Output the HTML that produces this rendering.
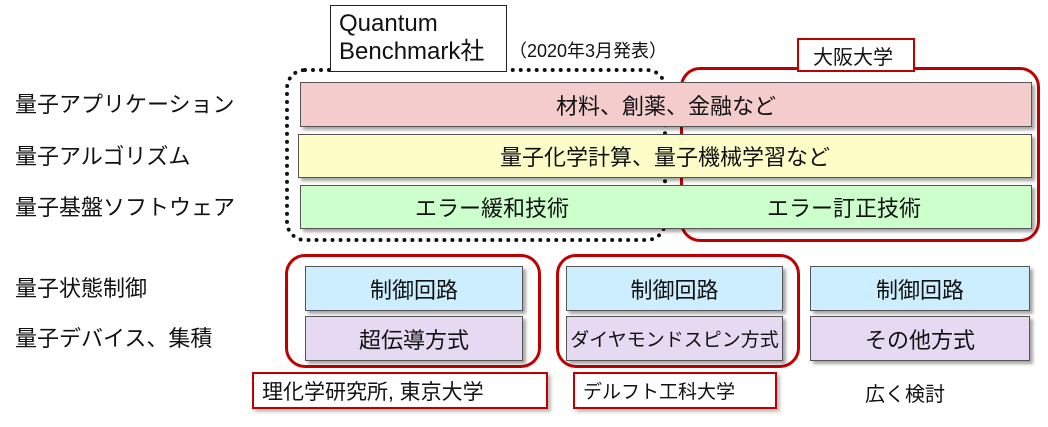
<!DOCTYPE html>
<html><head><meta charset="utf-8"><style>
body{margin:0;width:1048px;height:427px;background:#fff;position:relative;overflow:hidden;font-family:"Liberation Sans","Noto Sans CJK JP",sans-serif;color:#111}
.a{position:absolute;box-sizing:border-box}
.lbl{font-size:22px;left:15px;white-space:nowrap;line-height:26px}
.bar{border:1.5px solid #555;box-shadow:3px 3px 3px rgba(0,0,0,.35);display:flex;align-items:center;justify-content:center;font-size:22px}
.red{border:3px solid #c00000;border-radius:20px}
.tag{background:#fff;font-size:20px;display:flex;align-items:center;padding-left:8px;white-space:nowrap}
</style></head><body>
<div class="a lbl" style="top:92px">量子アプリケーション</div>
<div class="a lbl" style="top:144px">量子アルゴリズム</div>
<div class="a lbl" style="top:195px">量子基盤ソフトウェア</div>
<div class="a lbl" style="top:276px">量子状態制御</div>
<div class="a lbl" style="top:326px">量子デバイス、集積</div>

<div class="a" style="left:285px;top:68px;width:382px;height:174px;border:4px dotted #111;border-radius:20px"></div>
<div class="a red" style="left:680px;top:67px;width:360px;height:175px"></div>

<div class="a bar" style="left:300px;top:82px;width:732px;height:45px;background:#f4cccc">材料、創薬、金融など</div>
<div class="a bar" style="left:298px;top:134px;width:734px;height:44px;background:#fdfdc8">量子化学計算、量子機械学習など</div>
<div class="a bar" style="left:300px;top:185px;width:732px;height:44px;background:#ccffcc;justify-content:flex-start">
<span style="position:absolute;left:114px">エラー緩和技術</span><span style="position:absolute;left:466px">エラー訂正技術</span></div>

<div class="a" style="left:330px;top:5px;width:177px;height:67px;background:#fff;border:1.5px solid #222;font-size:24px;line-height:28px;padding:4px 0 0 8px;white-space:nowrap">Quantum<br>Benchmark社</div>
<div class="a" style="left:509px;top:37px;font-size:18px;white-space:nowrap">（2020年3月発表）</div>
<div class="a tag" style="left:797px;top:38px;width:118px;height:34px;border:2px solid #c00000;padding-left:14px;font-size:20px">大阪大学</div>

<div class="a red" style="left:285px;top:254px;width:256px;height:114px"></div>
<div class="a red" style="left:556px;top:254px;width:244px;height:114px"></div>

<div class="a bar" style="left:305px;top:266px;width:218px;height:45px;background:#cdeefe">制御回路</div>
<div class="a bar" style="left:566px;top:266px;width:217px;height:45px;background:#cdeefe">制御回路</div>
<div class="a bar" style="left:810px;top:266px;width:220px;height:45px;background:#cdeefe">制御回路</div>
<div class="a bar" style="left:305px;top:316px;width:218px;height:45px;background:#e6d9f2">超伝導方式</div>
<div class="a bar" style="left:566px;top:316px;width:217px;height:45px;background:#e6d9f2;font-size:19px">ダイヤモンドスピン方式</div>
<div class="a bar" style="left:810px;top:316px;width:220px;height:45px;background:#e6d9f2">その他方式</div>

<div class="a tag" style="left:252px;top:372px;width:296px;height:37px;border:2px solid #c00000;box-shadow:3px 3px 3px rgba(0,0,0,.25);font-size:21px">理化学研究所, 東京大学</div>
<div class="a tag" style="left:573px;top:372px;width:204px;height:37px;border:2px solid #c00000;box-shadow:3px 3px 3px rgba(0,0,0,.25);font-size:19px">デルフト工科大学</div>
<div class="a" style="left:865px;top:378px;font-size:20px;white-space:nowrap">広く検討</div>
</body></html>
